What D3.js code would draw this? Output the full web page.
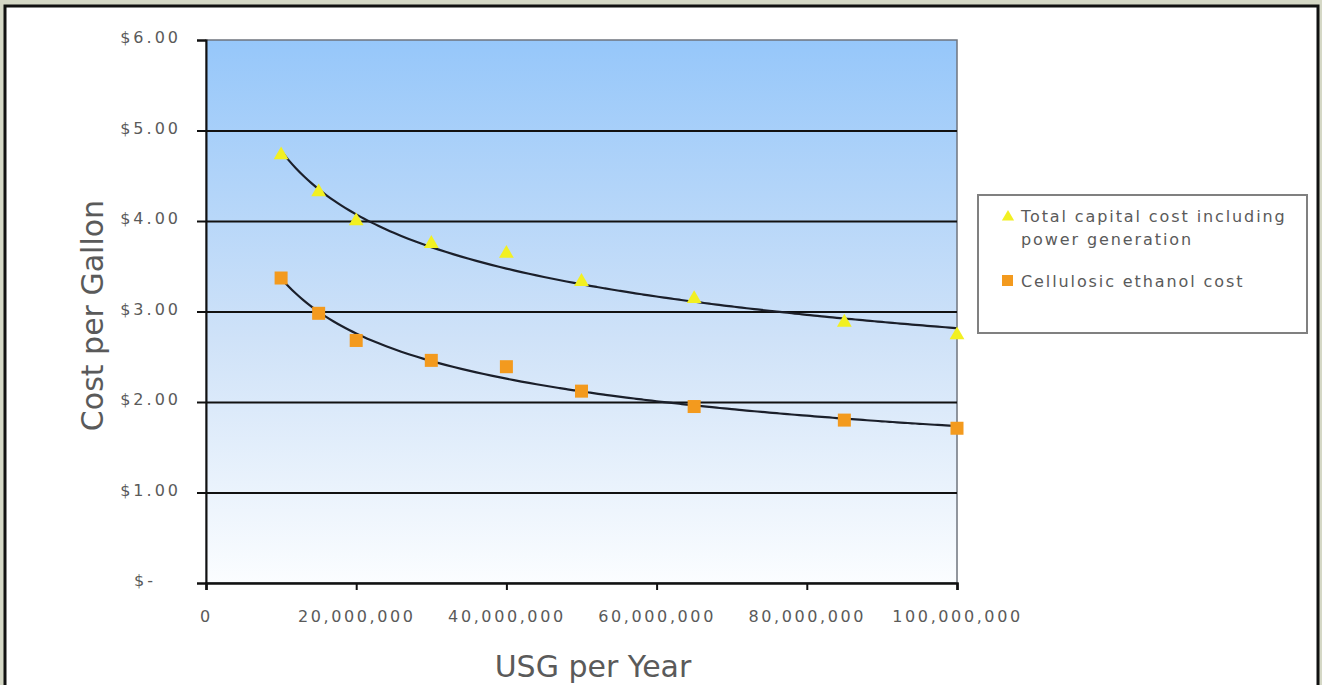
<!DOCTYPE html>
<html>
<head>
<meta charset="utf-8">
<script src="https://cdn.jsdelivr.net/npm/d3@7.9.0/dist/d3.min.js"></script>
<style>
  html, body { margin: 0; padding: 0; background: #d5d8c6; }
  svg { display: block; }
  text { font-family: "DejaVu Sans", sans-serif; fill: #5a5a5a; }
</style>
</head>
<body>
<div id="chart"></div>
<script>
// data
const volumes = [10e6, 15e6, 20e6, 30e6, 40e6, 50e6, 65e6, 85e6, 100e6];
const totalCapital = [4.73, 4.32, 4.00, 3.75, 3.64, 3.33, 3.14, 2.88, 2.74];
const ethanolCost = [3.37, 2.98, 2.68, 2.46, 2.39, 2.12, 1.95, 1.80, 1.71];
const yTicks = [0, 1, 2, 3, 4, 5, 6];
const xTicks = [0, 20e6, 40e6, 60e6, 80e6, 100e6];
const seriesNames = ['Total capital cost including|power generation', 'Cellulosic ethanol cost'];

const width = 1322, height = 685;
const plot = { left: 206, right: 957, top: 40, bottom: 583 };

const svg = d3.select('#chart').append('svg')
  .attr('width', width)
  .attr('height', height);

// white frame
svg.append('rect')
  .attr('x', 5).attr('y', 6)
  .attr('width', 1313).attr('height', 700)
  .attr('fill', '#fff')
  .attr('stroke', '#111')
  .attr('stroke-width', 3);

const x = d3.scaleLinear().domain([0, 100e6]).range([plot.left, plot.right]);
const y = d3.scaleLinear().domain([0, 6]).range([plot.bottom, plot.top]);

const defs = svg.append('defs');
const grad = defs.append('linearGradient')
  .attr('id', 'bg').attr('x1', 0).attr('y1', 0).attr('x2', 0).attr('y2', 1);
grad.append('stop').attr('offset', '0%').attr('stop-color', '#96c7fa');
grad.append('stop').attr('offset', '55%').attr('stop-color', '#cfe2f8');
grad.append('stop').attr('offset', '100%').attr('stop-color', '#fbfdff');

svg.append('rect')
  .attr('x', plot.left).attr('y', plot.top)
  .attr('width', plot.right - plot.left)
  .attr('height', plot.bottom - plot.top)
  .attr('fill', 'url(#bg)')
  .attr('stroke', '#6f747e')
  .attr('stroke-width', 1.5);

// gridlines
svg.append('g')
  .attr('transform', `translate(${plot.left},0)`)
  .call(d3.axisLeft(y).tickValues(yTicks.filter(d => d > 0 && d < 6)).tickFormat('').tickSize(-(plot.right - plot.left)))
  .call(g => g.select('.domain').remove())
  .call(g => g.selectAll('line').attr('stroke', '#111').attr('stroke-width', 2));

// y axis
const yAxis = svg.append('g')
  .attr('transform', `translate(${plot.left},0)`)
  .call(d3.axisLeft(y).tickValues(yTicks).tickSize(9).tickPadding(16)
    .tickFormat(d => d === 0 ? '$-' : '$' + d.toFixed(2)));
yAxis.select('.domain').attr('stroke', '#111').attr('stroke-width', 2);
yAxis.selectAll('line').attr('stroke', '#111').attr('stroke-width', 2);
yAxis.selectAll('text')
  .style('font-size', '16px')
  .style('letter-spacing', '3px')
  .attr('fill', '#5a5a5a')
  .attr('dy', '0.18em');
yAxis.selectAll('text').filter(d => d === 0).attr('x', -50);

// x axis
const xAxis = svg.append('g')
  .attr('transform', `translate(0,${plot.bottom})`)
  .call(d3.axisBottom(x).tickValues(xTicks).tickSize(7).tickPadding(21)
    .tickFormat(d3.format(',')));
xAxis.select('.domain').attr('stroke', '#111').attr('stroke-width', 2.5);
xAxis.selectAll('line').attr('stroke', '#111').attr('stroke-width', 2);
xAxis.selectAll('text')
  .style('font-size', '16px')
  .style('letter-spacing', '2.6px')
  .attr('fill', '#5a5a5a');

// axis titles
svg.append('text')
  .attr('transform', `translate(103,${(plot.top + plot.bottom) / 2 + 4}) rotate(-90)`)
  .attr('text-anchor', 'middle')
  .style('font-size', '30px')
  .text('Cost per Gallon');

svg.append('text')
  .attr('x', 593).attr('y', 677)
  .attr('text-anchor', 'middle')
  .style('font-size', '30px')
  .text('USG per Year');

// power trend lines (least squares fit on ln x, ln y)
function powerFit(xs, ys) {
  const lx = xs.map(Math.log), ly = ys.map(Math.log);
  const mx = d3.mean(lx), my = d3.mean(ly);
  const b = d3.sum(lx, (v, i) => (v - mx) * (ly[i] - my)) / d3.sum(lx, v => (v - mx) ** 2);
  const a = my - b * mx;
  return v => Math.exp(a + b * Math.log(v));
}

const lineGen = d3.line().x(d => x(d[0])).y(d => y(d[1])).curve(d3.curveBasis);
[totalCapital, ethanolCost].forEach(vals => {
  const f = powerFit(volumes, vals);
  const pts = d3.range(volumes[0], volumes[volumes.length - 1] + 1, 1e6).map(v => [v, f(v)]);
  svg.append('path')
    .attr('d', lineGen(pts))
    .attr('fill', 'none')
    .attr('stroke', '#1b1f2a')
    .attr('stroke-width', 2.2);
});

// markers
const tri = d3.symbol().type(d3.symbolTriangle).size(95);
svg.append('g').selectAll('path')
  .data(volumes.map((v, i) => [v, totalCapital[i]]))
  .join('path')
  .attr('d', tri)
  .attr('transform', d => `translate(${x(d[0])},${y(d[1])})`)
  .attr('fill', '#f2f022');

svg.append('g').selectAll('rect')
  .data(volumes.map((v, i) => [v, ethanolCost[i]]))
  .join('rect')
  .attr('x', d => x(d[0]) - 6.5)
  .attr('y', d => y(d[1]) - 6.5)
  .attr('width', 13).attr('height', 13)
  .attr('fill', '#f39a1e');

// legend
const legend = svg.append('g').attr('transform', 'translate(978,195)');
legend.append('rect')
  .attr('width', 329).attr('height', 138)
  .attr('fill', '#fff')
  .attr('stroke', '#808080')
  .attr('stroke-width', 2);

legend.append('path')
  .attr('d', d3.symbol().type(d3.symbolTriangle).size(65))
  .attr('transform', 'translate(30,22)')
  .attr('fill', '#f2f022');
const t1 = legend.append('text')
  .attr('x', 43).attr('y', 27)
  .style('font-size', '16px')
  .style('letter-spacing', '1.9px');
seriesNames[0].split('|').forEach((s, i) => {
  t1.append('tspan').attr('x', 43).attr('dy', i === 0 ? 0 : 23).text(s);
});

legend.append('rect')
  .attr('x', 24).attr('y', 80)
  .attr('width', 11).attr('height', 11)
  .attr('fill', '#f39a1e');
legend.append('text')
  .attr('x', 43).attr('y', 92)
  .style('font-size', '16px')
  .style('letter-spacing', '1.9px')
  .text(seriesNames[1]);
</script>
</body>
</html>
